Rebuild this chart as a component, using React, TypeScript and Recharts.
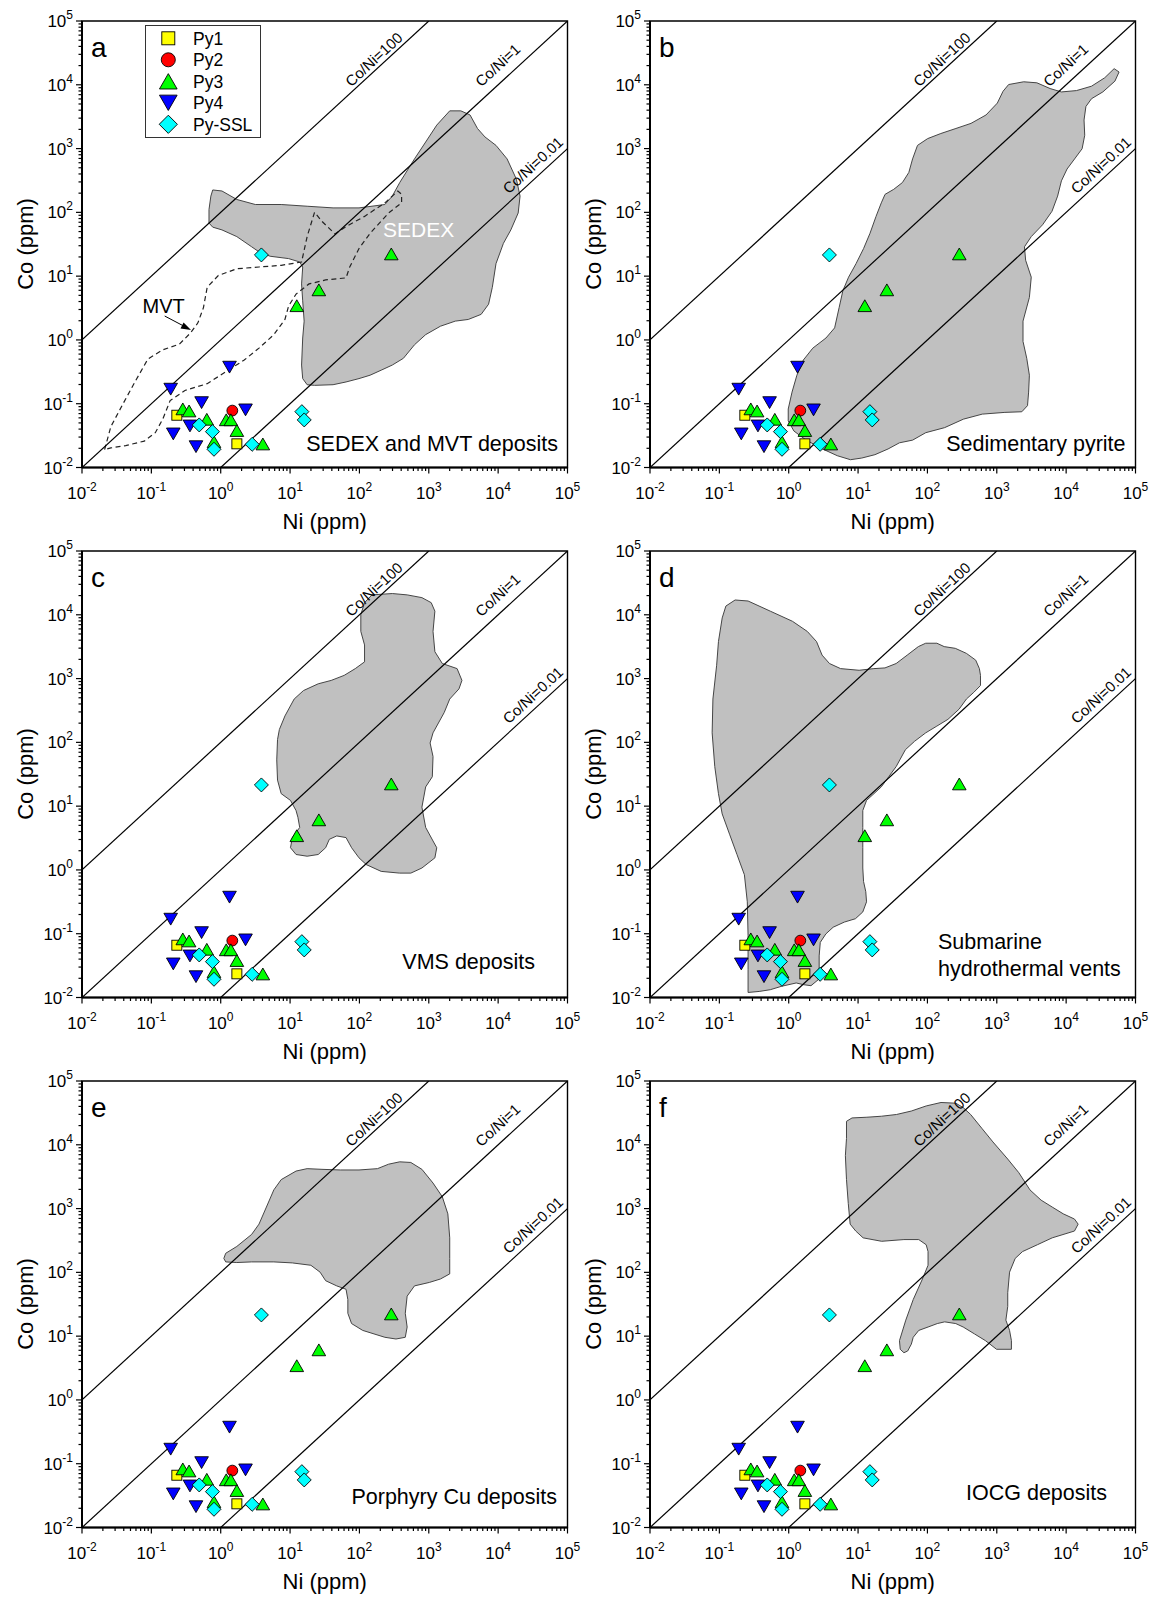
import React from "react";
import { ScatterChart, Scatter, XAxis, YAxis, ReferenceArea, Legend } from "recharts";

const FONT = "'Liberation Sans', Arial, Helvetica, sans-serif";

// Ni (ppm), Co (ppm) for each pyrite generation (same points in all six panels)
const PY1: [number, number][] = [
  [0.233, 0.066],
  [1.71, 0.0235],
];
const PY2: [number, number][] = [[1.47, 0.078]];
const PY3: [number, number][] = [
  [0.284, 0.083],
  [0.35, 0.077],
  [0.63, 0.057],
  [1.2, 0.056],
  [1.4, 0.056],
  [1.71, 0.038],
  [0.8, 0.0254],
  [4.05, 0.0234],
  [12.5, 3.44],
  [26, 6.1],
  [288, 22.3],
];
const PY4: [number, number][] = [
  [0.19, 0.169],
  [1.34, 0.374],
  [0.53, 0.104],
  [2.28, 0.08],
  [0.36, 0.0448],
  [0.207, 0.0336],
  [0.44, 0.0212],
];
const PY_SSL: [number, number][] = [
  [0.49, 0.0465],
  [0.76, 0.0365],
  [0.8, 0.0193],
  [2.84, 0.0231],
  [14.8, 0.0751],
  [16, 0.0557],
  [3.86, 21.5],
];

// axis ticks
const MAJOR_TICKS = [0.01, 0.1, 1, 10, 100, 1000, 10000, 100000];
const EXP_LABELS = ["-2", "-1", "0", "1", "2", "3", "4", "5"];
const MINOR_STEPS = [2, 3, 4, 5, 6, 7, 8, 9];

// Co/Ni reference lines: ratio and Ni range
const RATIO_LINES = [
  { ratio: 100, ni: [0.01, 1000] },
  { ratio: 1, ni: [0.01, 100000] },
  { ratio: 0.01, ni: [1, 100000] },
];
// label anchors, [log10 Ni, log10 Co]
const RATIO_LABELS: { text: string; at: [number, number] }[] = [
  { text: "Co/Ni=100", at: [2.206, 4.401] },
  { text: "Co/Ni=1", at: [3.993, 4.311] },
  { text: "Co/Ni=0.01", at: [4.499, 2.742] },
];

// field outlines as [log10 Ni, log10 Co]
const SEDEX_FIELD: [number, number][] = [
  [-0.115, 2.351], [0.018, 2.335], [0.232, 2.202], [0.499, 2.123], [0.872, 2.123],
  [1.246, 2.096], [1.62, 2.07], [1.994, 2.07], [2.367, 2.123], [2.474, 2.255],
  [2.581, 2.467], [2.794, 2.838], [2.955, 3.103], [3.115, 3.368], [3.302, 3.591],
  [3.462, 3.591], [3.595, 3.527], [3.702, 3.315], [3.809, 3.183], [3.969, 3.05],
  [4.129, 2.838], [4.263, 2.52], [4.316, 2.255], [4.289, 1.99], [4.183, 1.725],
  [4.076, 1.514], [3.969, 1.196], [3.916, 0.825], [3.862, 0.56], [3.755, 0.401],
  [3.569, 0.321], [3.382, 0.295], [3.168, 0.215], [2.955, 0.083], [2.794, -0.076],
  [2.634, -0.288], [2.474, -0.394], [2.314, -0.474], [2.154, -0.553], [1.994, -0.606],
  [1.807, -0.659], [1.62, -0.702], [1.353, -0.712], [1.246, -0.702], [1.182, -0.606],
  [1.166, -0.394], [1.182, 0.03], [1.203, 0.295], [1.182, 0.613], [1.166, 0.878],
  [1.182, 1.143], [1.139, 1.222], [0.979, 1.275], [0.712, 1.312], [0.552, 1.381],
  [0.445, 1.461], [0.232, 1.62], [0.018, 1.725], [-0.115, 1.768], [-0.169, 1.832],
  [-0.169, 2.043], [-0.142, 2.255],
];
const MVT_FIELD: [number, number][] = [
  [-1.674, -1.719], [-1.584, -1.359], [-1.423, -1.03], [-1.237, -0.659], [-1.05, -0.299],
  [-0.836, -0.156], [-0.596, -0.066], [-0.436, 0.109], [-0.329, 0.268], [-0.249, 0.507],
  [-0.195, 0.825], [-0.035, 1.01], [0.232, 1.116], [0.552, 1.143], [0.872, 1.169],
  [1.166, 1.222], [1.246, 1.62], [1.353, 2.001], [1.46, 1.858], [1.647, 1.662],
  [1.807, 1.778], [2.074, 1.937], [2.367, 2.149], [2.554, 2.335], [2.608, 2.282],
  [2.608, 2.149], [2.421, 1.99], [2.154, 1.672], [1.994, 1.434], [1.86, 1.143],
  [1.807, 0.973], [1.513, 0.941], [1.273, 0.878], [1.086, 0.719], [0.979, 0.533],
  [0.926, 0.321], [0.766, 0.083], [0.552, -0.129], [0.339, -0.315], [0.072, -0.5],
  [-0.195, -0.686], [-0.516, -0.792], [-0.729, -0.951], [-0.836, -1.242], [-0.943, -1.454],
  [-1.103, -1.587], [-1.37, -1.656], [-1.584, -1.693],
];
const SEDIMENTARY_FIELD: [number, number][] = [
  [3.171, 4.004], [3.388, 4.047], [3.578, 4.031], [3.769, 3.941], [3.932, 3.888],
  [4.149, 3.909], [4.366, 3.978], [4.556, 4.11], [4.692, 4.253], [4.763, 4.2],
  [4.703, 4.057], [4.529, 3.888], [4.366, 3.782], [4.285, 3.66], [4.258, 3.448],
  [4.268, 3.209], [4.23, 2.997], [4.122, 2.838], [4.013, 2.679], [3.932, 2.494],
  [3.877, 2.255], [3.796, 2.017], [3.66, 1.805], [3.497, 1.62], [3.399, 1.46],
  [3.416, 1.249], [3.497, 0.984], [3.47, 0.666], [3.378, 0.295], [3.378, -0.023],
  [3.432, -0.288], [3.47, -0.553], [3.459, -0.818], [3.443, -1.03], [3.361, -1.126],
  [3.117, -1.136], [2.791, -1.163], [2.519, -1.242], [2.248, -1.375], [1.976, -1.454],
  [1.786, -1.571], [1.596, -1.613], [1.433, -1.709], [1.243, -1.799], [1.053, -1.852],
  [0.89, -1.878], [0.7, -1.815], [0.455, -1.693], [0.238, -1.56], [0.075, -1.428],
  [-0.007, -1.269], [-0.007, -1.083], [0.048, -0.818], [0.118, -0.553], [0.211, -0.315],
  [0.347, -0.129], [0.537, 0.03], [0.662, 0.189], [0.727, 0.507], [0.781, 0.772],
  [0.863, 0.984], [0.971, 1.196], [1.08, 1.434], [1.172, 1.672], [1.259, 1.937],
  [1.335, 2.149], [1.389, 2.282], [1.514, 2.361], [1.639, 2.467], [1.732, 2.626],
  [1.786, 2.838], [1.857, 3.05], [2.003, 3.156], [2.193, 3.236], [2.411, 3.315],
  [2.628, 3.395], [2.845, 3.527], [3.008, 3.713], [3.09, 3.898],
];
const VMS_FIELD: [number, number][] = [
  [2.02, 4.004], [2.074, 4.19], [2.18, 4.312], [2.474, 4.333], [2.688, 4.312],
  [2.901, 4.269], [3.035, 4.19], [3.088, 4.057], [3.061, 3.739], [3.088, 3.421],
  [3.195, 3.236], [3.408, 3.156], [3.478, 2.971], [3.435, 2.838], [3.302, 2.679],
  [3.222, 2.467], [3.061, 2.149], [3.019, 1.99], [3.061, 1.778], [3.051, 1.461],
  [2.955, 1.302], [2.901, 0.984], [2.955, 0.666], [3.061, 0.454], [3.115, 0.348],
  [3.088, 0.189], [2.901, 0.03], [2.741, -0.05], [2.581, -0.05], [2.314, -0.023],
  [2.1, 0.083], [1.994, 0.189], [1.887, 0.348], [1.807, 0.507], [1.673, 0.533],
  [1.566, 0.48], [1.513, 0.348], [1.406, 0.242], [1.246, 0.215], [1.086, 0.242],
  [1.006, 0.348], [1.033, 0.507], [1.139, 0.666], [1.113, 0.825], [1.086, 0.931],
  [1.006, 1.09], [0.872, 1.196], [0.819, 1.408], [0.808, 1.725], [0.819, 2.043],
  [0.846, 2.202], [0.926, 2.414], [1.059, 2.679], [1.193, 2.812], [1.406, 2.918],
  [1.593, 2.971], [1.78, 3.05], [1.94, 3.156], [2.074, 3.262], [2.074, 3.527],
  [2.02, 3.739],
];
const VENT_FIELD: [number, number][] = [
  [-0.959, 3.951], [-0.906, 4.137], [-0.773, 4.232], [-0.586, 4.216], [-0.266, 4.057],
  [0.054, 3.898], [0.268, 3.739], [0.401, 3.58], [0.481, 3.368], [0.588, 3.236],
  [0.748, 3.156], [1.015, 3.13], [1.228, 3.156], [1.388, 3.167], [1.549, 3.236],
  [1.709, 3.368], [1.869, 3.501], [1.975, 3.554], [2.136, 3.554], [2.242, 3.501],
  [2.402, 3.474], [2.562, 3.395], [2.696, 3.289], [2.749, 3.156], [2.765, 3.05],
  [2.765, 2.891], [2.669, 2.785], [2.562, 2.679], [2.456, 2.52], [2.296, 2.361],
  [2.136, 2.255], [1.975, 2.149], [1.815, 2.017], [1.682, 1.884], [1.602, 1.725],
  [1.549, 1.62], [1.442, 1.461], [1.335, 1.302], [1.202, 1.169], [1.122, 1.09],
  [1.068, 0.931], [1.068, 0.666], [1.068, 0.348], [1.068, 0.03], [1.079, -0.182],
  [1.111, -0.341], [1.122, -0.5], [1.068, -0.659], [0.962, -0.765], [0.801, -0.818],
  [0.641, -0.898], [0.535, -1.004], [0.455, -1.136], [0.439, -1.348], [0.439, -1.56],
  [0.428, -1.719], [0.321, -1.815], [0.214, -1.799], [0.108, -1.772], [-0.106, -1.825],
  [-0.266, -1.878], [-0.426, -1.905], [-0.586, -1.921], [-0.586, -1.56], [-0.586, -1.03],
  [-0.597, -0.5], [-0.639, -0.076], [-0.746, 0.242], [-0.853, 0.56], [-0.959, 0.878],
  [-1.013, 1.196], [-1.066, 1.62], [-1.104, 2.149], [-1.093, 2.679], [-1.039, 3.209],
  [-1.013, 3.58],
];
const PORPHYRY_FIELD: [number, number][] = [
  [0.045, 2.218], [0.072, 2.299], [0.232, 2.406], [0.445, 2.594], [0.552, 2.756],
  [0.659, 3.024], [0.766, 3.293], [0.872, 3.454], [1.086, 3.588], [1.246, 3.626],
  [1.46, 3.615], [1.727, 3.605], [1.994, 3.605], [2.26, 3.626], [2.421, 3.696],
  [2.581, 3.733], [2.741, 3.723], [2.901, 3.615], [3.061, 3.4], [3.195, 3.185],
  [3.275, 2.917], [3.302, 2.541], [3.302, 2.218], [3.302, 1.976], [3.168, 1.896],
  [3.008, 1.842], [2.794, 1.788], [2.688, 1.627], [2.661, 1.358], [2.688, 1.143],
  [2.661, 0.982], [2.527, 0.955], [2.367, 0.982], [2.047, 1.09], [1.887, 1.197],
  [1.833, 1.358], [1.833, 1.573], [1.807, 1.735], [1.673, 1.788], [1.513, 1.869],
  [1.433, 2.003], [1.3, 2.111], [1.033, 2.148], [0.766, 2.164], [0.445, 2.164],
  [0.232, 2.154], [0.072, 2.164],
];
const IOCG_FIELD: [number, number][] = [
  [0.833, 4.368], [0.913, 4.421], [1.127, 4.432], [1.34, 4.448], [1.554, 4.475],
  [1.768, 4.529], [1.982, 4.609], [2.196, 4.663], [2.409, 4.652], [2.516, 4.583],
  [2.623, 4.475], [2.783, 4.26], [2.944, 4.045], [3.158, 3.776], [3.318, 3.562],
  [3.478, 3.293], [3.639, 3.132], [3.799, 3.024], [3.959, 2.917], [4.12, 2.836],
  [4.173, 2.756], [4.12, 2.648], [3.799, 2.541], [3.585, 2.433], [3.371, 2.326],
  [3.265, 2.218], [3.184, 2.003], [3.158, 1.681], [3.158, 1.466], [3.131, 1.251],
  [3.184, 1.09], [3.211, 0.929], [3.211, 0.794], [2.997, 0.794], [2.837, 0.929],
  [2.677, 1.036], [2.516, 1.143], [2.409, 1.197], [2.249, 1.224], [2.142, 1.197],
  [2.009, 1.143], [1.875, 1.09], [1.795, 0.982], [1.768, 0.875], [1.715, 0.767],
  [1.661, 0.74], [1.608, 0.794], [1.597, 0.929], [1.688, 1.251], [1.795, 1.573],
  [1.928, 1.896], [2.009, 2.111], [2.009, 2.326], [1.982, 2.433], [1.875, 2.514],
  [1.661, 2.514], [1.34, 2.487], [1.073, 2.541], [0.966, 2.648], [0.886, 2.756],
  [0.859, 3.078], [0.833, 3.454], [0.817, 3.83], [0.833, 4.099],
];

type Kind = "square" | "circle" | "up" | "down" | "diamond";

const SERIES: { name: string; kind: Kind; color: string; data: [number, number][] }[] = [
  { name: "Py1", kind: "square", color: "#ffff00", data: PY1 },
  { name: "Py2", kind: "circle", color: "#ff0000", data: PY2 },
  { name: "Py3", kind: "up", color: "#00ff00", data: PY3 },
  { name: "Py4", kind: "down", color: "#0000ff", data: PY4 },
  { name: "Py-SSL", kind: "diamond", color: "#00ffff", data: PY_SSL },
];

const PANELS = [
  { id: "a", field: SEDEX_FIELD, caption: ["SEDEX and MVT deposits"], anchor: "end", tx: 558, ty: [451] },
  { id: "b", field: SEDIMENTARY_FIELD, caption: ["Sedimentary pyrite"], anchor: "end", tx: 557.5, ty: [451] },
  { id: "c", field: VMS_FIELD, caption: ["VMS deposits"], anchor: "end", tx: 535, ty: [439] },
  { id: "d", field: VENT_FIELD, caption: ["Submarine", "hydrothermal vents"], anchor: "start", tx: 370, ty: [419, 445.5] },
  { id: "e", field: PORPHYRY_FIELD, caption: ["Porphyry Cu deposits"], anchor: "end", tx: 557, ty: [443.5] },
  { id: "f", field: IOCG_FIELD, caption: ["IOCG deposits"], anchor: "end", tx: 539, ty: [440] },
];

const toPoints = (arr: [number, number][]) => arr.map(([x, y]) => ({ x, y }));
const fromLog = (arr: [number, number][]) => arr.map(([a, b]) => ({ x: 10 ** a, y: 10 ** b }));

const ALL_TICKS = [
  ...MAJOR_TICKS,
  ...MAJOR_TICKS.slice(0, -1).flatMap((t) => MINOR_STEPS.map((m) => +(t * m).toPrecision(3))),
].sort((a, b) => a - b);

function drawMarker(kind: Kind, color: string, cx: number, cy: number, k = 1) {
  const common = { fill: color, stroke: "#000", strokeWidth: 0.9 };
  if (kind === "square") {
    const s = 10 * k;
    return <rect x={cx - s / 2} y={cy - s / 2} width={s} height={s} {...common} />;
  }
  if (kind === "circle") return <circle cx={cx} cy={cy} r={5.4 * k} {...common} />;
  if (kind === "diamond") {
    const h = 7 * k;
    return <polygon points={`${cx},${cy - h} ${cx + h},${cy} ${cx},${cy + h} ${cx - h},${cy}`} {...common} />;
  }
  const w = 6.8 * k;
  const h = 5.9 * k;
  if (kind === "up")
    return <polygon points={`${cx - w},${cy + h} ${cx + w},${cy + h} ${cx},${cy - h}`} {...common} />;
  return <polygon points={`${cx - w},${cy - h} ${cx + w},${cy - h} ${cx},${cy + h}`} {...common} />;
}

const isMajor = (v: number) => MAJOR_TICKS.indexOf(v);

const XTick = (props: any) => {
  const { x, y, payload } = props;
  const idx = isMajor(payload.value);
  const len = idx >= 0 ? 6 : 3.5;
  return (
    <g>
      <line x1={x} x2={x} y1={y} y2={y + len} stroke="#000" strokeWidth={1.2} />
      {idx >= 0 && (
        <text x={x} y={y + 31} textAnchor="middle" fontSize={17} fontFamily={FONT} fill="#000">
          10
          <tspan dy={-8} fontSize={12}>
            {EXP_LABELS[idx]}
          </tspan>
        </text>
      )}
    </g>
  );
};

const YTick = (props: any) => {
  const { x, y, payload } = props;
  const idx = isMajor(payload.value);
  const len = idx >= 0 ? 6 : 3.5;
  return (
    <g>
      <line x1={x} x2={x - len} y1={y} y2={y} stroke="#000" strokeWidth={1.2} />
      {idx >= 0 && (
        <text x={x - 9} y={y + 6} textAnchor="end" fontSize={17} fontFamily={FONT} fill="#000">
          10
          <tspan dy={-8} fontSize={12}>
            {EXP_LABELS[idx]}
          </tspan>
        </text>
      )}
    </g>
  );
};

const emptyShape = () => <g />;

const outline =
  (fill: string, stroke: string, width: number, dash?: string) =>
  (p: any) => {
    const pts = (p.points || []) as { x: number; y: number }[];
    const d = pts.map((q, i) => `${i ? "L" : "M"}${q.x},${q.y}`).join("") + "Z";
    return <path d={d} fill={fill} stroke={stroke} strokeWidth={width} strokeDasharray={dash} />;
  };

const segment = (p: any) => {
  const pts = (p.points || []) as { x: number; y: number }[];
  if (pts.length < 2) return <g />;
  return <line x1={pts[0].x} y1={pts[0].y} x2={pts[1].x} y2={pts[1].y} stroke="#000" strokeWidth={1.2} />;
};

const ratioLabel = (p: any) => {
  const { cx, cy, payload } = p;
  return (
    <text
      x={cx}
      y={cy}
      transform={`rotate(-42.6 ${cx} ${cy})`}
      textAnchor="middle"
      dominantBaseline="central"
      fontSize={15}
      fontFamily={FONT}
      fill="#000"
    >
      {payload.text}
    </text>
  );
};

const LegendBox = () => (
  <svg width={116} height={113} style={{ display: "block" }}>
    <rect x={0.5} y={0.5} width={115} height={112} fill="#fff" stroke="#333" strokeWidth={1} />
    {SERIES.map((s, i) => {
      const cy = 13.3 + i * 21.5;
      return (
        <g key={s.name}>
          {drawMarker(s.kind, s.color, 23.3, cy, 1.3)}
          <text x={48} y={cy + 6.2} fontSize={17.5} fontFamily={FONT} fill="#000">
            {s.name}
          </text>
        </g>
      );
    })}
  </svg>
);

function Panel({ cfg, left, top }: { cfg: (typeof PANELS)[number]; left: number; top: number }) {
  const labelData = RATIO_LABELS.map((l) => ({ x: 10 ** l.at[0], y: 10 ** l.at[1], text: l.text }));
  return (
    <div style={{ position: "absolute", left, top, width: 600, height: 530 }}>
      <ScatterChart width={600} height={530} margin={{ top: 21, right: 32.5, bottom: 22.5, left: 22 }}>
        <XAxis
          type="number"
          dataKey="x"
          scale="log"
          domain={[0.01, 100000]}
          allowDataOverflow
          ticks={ALL_TICKS}
          interval={0}
          tick={XTick}
          tickLine={false}
          tickSize={0}
          tickMargin={0}
          axisLine={{ stroke: "#000", strokeWidth: 2 }}
          height={40}
        />
        <YAxis
          type="number"
          dataKey="y"
          scale="log"
          domain={[0.01, 100000]}
          allowDataOverflow
          ticks={ALL_TICKS}
          interval={0}
          tick={YTick}
          tickLine={false}
          tickSize={0}
          tickMargin={0}
          axisLine={{ stroke: "#000", strokeWidth: 2 }}
          width={60}
        />
        <ReferenceArea x1={0.01} x2={100000} y1={0.01} y2={100000} fill="none" stroke="#000" strokeWidth={1.4} fillOpacity={0} />
        <Scatter
          data={fromLog(cfg.field)}
          shape={emptyShape}
          line={outline("#c0c0c0", "#454545", 1)}
          isAnimationActive={false}
        />
        {cfg.id === "a" && (
          <Scatter
            data={fromLog(MVT_FIELD)}
            shape={emptyShape}
            line={outline("none", "#222", 1.2, "5 3.5")}
            isAnimationActive={false}
          />
        )}
        {RATIO_LINES.map((r) => (
          <Scatter
            key={r.ratio}
            data={r.ni.map((n) => ({ x: n, y: n * r.ratio }))}
            shape={emptyShape}
            line={segment}
            isAnimationActive={false}
          />
        ))}
        <Scatter data={labelData} shape={ratioLabel} isAnimationActive={false} />
        {SERIES.map((s) => (
          <Scatter
            key={s.name}
            name={s.name}
            data={toPoints(s.data)}
            shape={(p: any) => drawMarker(s.kind, s.color, p.cx, p.cy)}
            isAnimationActive={false}
          />
        ))}
        {cfg.id === "a" && (
          <Legend
            layout="horizontal"
            verticalAlign="middle"
            align="center"
            content={LegendBox}
            wrapperStyle={{ left: 145, top: 25, width: 116, height: 113 }}
          />
        )}
      </ScatterChart>
      <svg
        width={600}
        height={530}
        style={{ position: "absolute", left: 0, top: 0, overflow: "visible", pointerEvents: "none" }}
      >
        <text x={91} y={57} fontSize={28} fontFamily={FONT} fill="#000">
          {cfg.id}
        </text>
        {cfg.caption.map((c, i) => (
          <text
            key={c}
            x={cfg.tx}
            y={cfg.ty[i]}
            textAnchor={cfg.anchor as any}
            fontSize={21.5}
            fontFamily={FONT}
            fill="#000"
          >
            {c}
          </text>
        ))}
        <text
          x={25}
          y={244}
          transform="rotate(-90 25 244)"
          textAnchor="middle"
          dominantBaseline="central"
          fontSize={22}
          fontFamily={FONT}
          fill="#000"
        >
          Co (ppm)
        </text>
        <text x={324.75} y={528.5} textAnchor="middle" fontSize={22} fontFamily={FONT} fill="#000">
          Ni (ppm)
        </text>
        {cfg.id === "a" && (
          <g>
            <text x={383} y={236.6} fontSize={21} fontFamily={FONT} fill="#fff">
              SEDEX
            </text>
            <text x={142.5} y={312.7} fontSize={20} fontFamily={FONT} fill="#000">
              MVT
            </text>
            <line x1={164.7} y1={316} x2={188} y2={328.3} stroke="#000" strokeWidth={1} />
            <polygon points="191,330 180.5,328.4 183.6,322.6" fill="#000" />
          </g>
        )}
      </svg>
    </div>
  );
}

export default function App() {
  return (
    <div
      style={{
        position: "absolute",
        left: 0,
        top: 0,
        width: 1151,
        height: 1597,
        overflow: "hidden",
        background: "#fff",
      }}
    >
      {PANELS.map((p, i) => (
        <Panel key={p.id} cfg={p} left={(i % 2) * 568} top={Math.floor(i / 2) * 530} />
      ))}
    </div>
  );
}
